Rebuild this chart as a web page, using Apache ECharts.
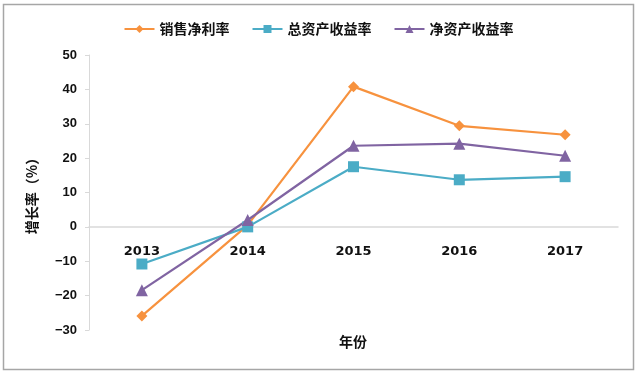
<!DOCTYPE html>
<html><head><meta charset="utf-8">
<script src="https://cdn.jsdelivr.net/npm/echarts@6/dist/echarts.min.js"></script>
<style>html,body{margin:0;padding:0;background:#fff}#c{width:637px;height:373px}</style>
</head><body><div id="c"></div>
<script>
const categories = ['2013','2014','2015','2016','2017'];
const netProfitMargin = [-25.9, 0.5, 40.8, 29.4, 26.8];
const roa = [-10.8, 0.0, 17.5, 13.7, 14.6];
const roe = [-18.4, 2.0, 23.6, 24.2, 20.7];
const seriesNames = ['销售净利率','总资产收益率','净资产收益率'];
const yMin = -30, yMax = 50;

const chart = echarts.init(document.getElementById('c'));
const cjk = '"Noto Sans CJK SC", sans-serif';
const gridTop = 55, gridBottom = 43, H = 373;
const plotH = H - gridTop - gridBottom;
const zeroOffset = -plotH * (0 - yMin) / (yMax - yMin);
chart.setOption({
  animation: false,
  backgroundColor: '#fff',
  graphic: [
    {type:'rect', shape:{x:3.5,y:4.5,width:630,height:365}, style:{fill:'none', stroke:'#a6a6a6', lineWidth:1.5}, silent:true},
    {type:'text', left: 339, top: 335, style:{text:'年份', font:'bold 14px "Noto Sans CJK SC"', fill:'#111'}, silent:true}
  ],
  legend: {
    top: 17, left: 'center', itemWidth: 30, itemHeight: 10, itemGap: 22,
    textStyle: {fontFamily: cjk, fontWeight: 'bold', fontSize: 14, color: '#111'},
    data: seriesNames
  },
  grid: {left: 89, right: 19, top: gridTop, bottom: gridBottom, containLabel: false, outerBoundsMode: 'none'},
  xAxis: {
    type: 'category', data: categories, boundaryGap: true, position: 'bottom', offset: zeroOffset,
    axisLine: {onZero: false, lineStyle: {color: '#d9d9d9', width: 1.5}},
    axisTick: {inside: true, length: 4, lineStyle: {color: '#d9d9d9'}},
    axisLabel: {margin: 18, fontFamily: '"DejaVu Sans"', fontWeight: 'bold', fontSize: 13, color: '#111'}
  },
  yAxis: {
    type: 'value', min: yMin, max: yMax, interval: 10,
    name: '增长率（%）', nameLocation: 'middle', nameGap: 50, nameRotate: 90,
    nameTextStyle: {fontFamily: cjk, fontWeight: 'bold', fontSize: 14, color: '#111'},
    axisLine: {show: true, lineStyle: {color: '#d9d9d9', width: 1}},
    axisTick: {show: true, length: 4, lineStyle: {color: '#d9d9d9'}},
    splitLine: {show: false},
    axisLabel: {margin: 12, fontFamily: '"Liberation Sans"', fontWeight: 'bold', fontSize: 13, color: '#111',
      formatter: v => String(v).replace('-', '\u2212')}
  },
  series: [
    {name: seriesNames[0], type: 'line', data: netProfitMargin, symbol: 'diamond', symbolSize: 11,
     itemStyle: {color: '#F7923E'}, lineStyle: {width: 2.2, color: '#F7923E'}},
    {name: seriesNames[1], type: 'line', data: roa, symbol: 'rect', symbolSize: 11,
     itemStyle: {color: '#4BACC6'}, lineStyle: {width: 2.2, color: '#4BACC6'}},
    {name: seriesNames[2], type: 'line', data: roe, symbol: 'triangle', symbolSize: 12,
     itemStyle: {color: '#8064A2'}, lineStyle: {width: 2.2, color: '#8064A2'}}
  ]
});
</script></body></html>
